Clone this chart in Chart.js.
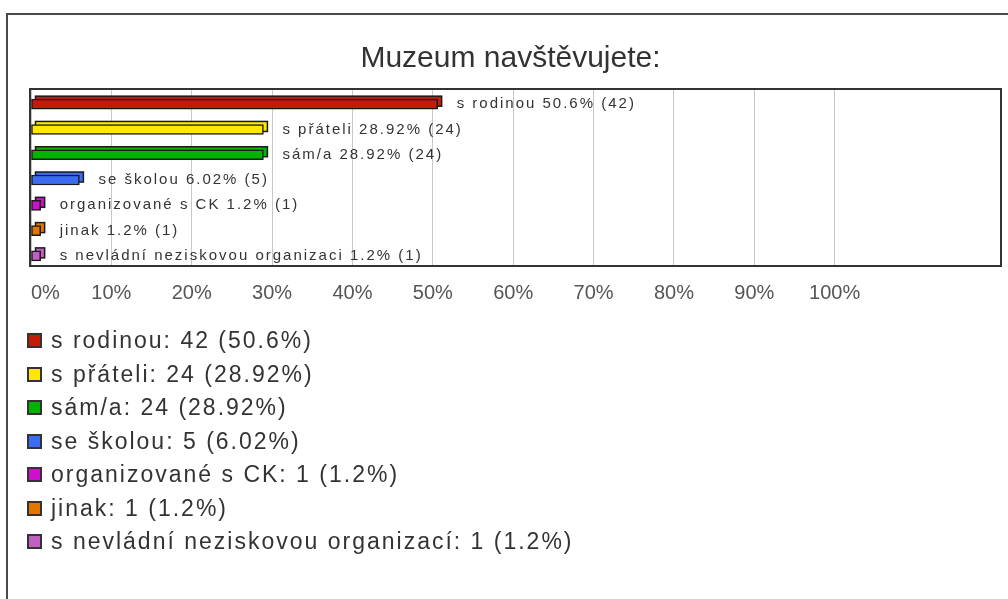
<!DOCTYPE html>
<html><head><meta charset="utf-8">
<script src="https://cdn.jsdelivr.net/npm/chart.js@4/dist/chart.umd.min.js"></script>
<style>
html,body{margin:0;padding:0;background:#fff;width:1008px;height:599px;overflow:hidden;}
#frame{position:absolute;left:6px;top:13px;width:1100px;height:700px;border-top:2px solid #4a4a4a;border-left:2px solid #4a4a4a;box-sizing:border-box;}
#wrap{position:absolute;left:0;top:0;width:1008px;height:599px;}
#legend{position:absolute;left:27px;top:324px;font-family:"Liberation Sans",Arial,sans-serif;font-size:23px;letter-spacing:2px;color:#333;}
.item{height:33.5px;display:flex;align-items:center;white-space:nowrap;}
.sw{width:11px;height:11px;border:2px solid #333;margin-right:9px;flex:none;}
</style></head>
<body>
<div id="frame"></div>
<div id="wrap"><canvas id="c" width="1008" height="599"></canvas></div>
<div id="legend"></div>
<script>
const title = "Muzeum navštěvujete:";
const categories = ["s rodinou", "s přáteli", "sám/a", "se školou", "organizované s CK", "jinak", "s nevládní neziskovou organizací"];
const barLabels = ["s rodinou", "s přáteli", "sám/a", "se školou", "organizované s CK", "jinak", "s nevládní neziskovou organizaci"];
const counts = [42, 24, 24, 5, 1, 1, 1];
const percents = [50.6, 28.92, 28.92, 6.02, 1.2, 1.2, 1.2];
const colors = ["#c41a08", "#ffe800", "#00b400", "#3b6cf5", "#cc10cc", "#e07800", "#c060c0"];
const xTickValues = [0, 10, 20, 30, 40, 50, 60, 70, 80, 90, 100];
const xMax = 120.7;

const FONT = '"Liberation Sans", Arial, sans-serif';

// legend (HTML)
const leg = document.getElementById('legend');
categories.forEach((c, i) => {
  const d = document.createElement('div');
  d.className = 'item';
  const s = document.createElement('span');
  s.className = 'sw';
  s.style.background = colors[i];
  const t = document.createElement('span');
  t.textContent = c + ': ' + counts[i] + ' (' + percents[i] + '%)';
  d.appendChild(s); d.appendChild(t);
  leg.appendChild(d);
});

const DX = 4, DY = 3;
const bars3d = {
  id: 'bars3d',
  beforeDraw(chart) { chart.ctx.letterSpacing = '0px'; },
  beforeDatasetsDraw(chart) {
    const ctx = chart.ctx;
    const meta = chart.getDatasetMeta(0);
    ctx.save();
    meta.data.forEach((el, i) => {
      const h = el.height;
      const x0 = el.base + DX, x1 = el.x + DX;
      const y0 = el.y - h / 2 - DY;
      ctx.fillStyle = colors[i];
      ctx.strokeStyle = '#1a1a1a';
      ctx.lineWidth = 1.5;
      ctx.fillRect(x0, y0, x1 - x0, h);
      ctx.strokeRect(x0, y0, x1 - x0, h);
    });
    ctx.restore();
  },
  afterDatasetsDraw(chart) {
    const ctx = chart.ctx;
    const meta = chart.getDatasetMeta(0);
    const a = chart.chartArea;
    ctx.save();
    ctx.strokeStyle = '#333';
    ctx.lineWidth = 2;
    ctx.strokeRect(a.left - 1, a.top, a.right - a.left + 1, a.bottom - a.top);
    ctx.letterSpacing = '2px';
    ctx.font = '15px ' + FONT;
    ctx.fillStyle = '#333';
    ctx.textBaseline = 'middle';
    ctx.textAlign = 'left';
    meta.data.forEach((el, i) => {
      const txt = barLabels[i] + ' ' + percents[i] + '% (' + counts[i] + ')';
      ctx.fillText(txt, el.x + 19, el.y);
    });
    ctx.restore();
    ctx.letterSpacing = '0px';
  }
};

new Chart(document.getElementById('c'), {
  type: 'bar',
  data: {
    labels: categories,
    datasets: [{
      data: percents.map((v, i) => ({ x: v, y: i })),
      backgroundColor: colors,
      borderColor: '#1a1a1a',
      borderWidth: 1.5,
      borderSkipped: false,
      barThickness: 10
    }]
  },
  options: {
    indexAxis: 'y',
    responsive: false,
    devicePixelRatio: 1,
    animation: false,
    layout: { padding: { left: 20, right: 7, top: 41, bottom: 293 } },
    plugins: {
      legend: { display: false },
      tooltip: { enabled: false },
      title: {
        display: true, text: title, color: '#333',
        font: { family: FONT, size: 30, weight: 'normal' },
        padding: { top: 0, bottom: 12 }
      }
    },
    scales: {
      x: {
        min: 0, max: xMax,
        afterBuildTicks(scale) {
          scale.ticks = xTickValues.concat([xMax]).map(v => ({ value: v }));
        },
        afterFit(scale) { scale.height = 40; scale.paddingLeft = 0; scale.paddingRight = 0; },
        grid: {
          color: ctx => (ctx.tick && ctx.tick.value > 100) ? 'rgba(0,0,0,0)' : '#c8c8c8',
          lineWidth: 1, drawTicks: false
        },
        border: { display: false },
        ticks: {
          z: 1,
          align: 'inner',
          autoSkip: false, maxRotation: 0, padding: 15,
          color: '#555',
          font: { family: FONT, size: 20 },
          callback: v => (v > 100 ? '' : v + '%')
        }
      },
      y: {
        type: 'linear', display: true, reverse: true, offset: false, min: -0.6, max: 6.4,
        afterFit(scale) { scale.width = 11; scale.paddingTop = 0; scale.paddingBottom = 0; },
        grid: { display: false, offset: false },
        border: { display: false },
        ticks: { display: false }
      }
    }
  },
  plugins: [bars3d]
});
</script>
</body></html>
